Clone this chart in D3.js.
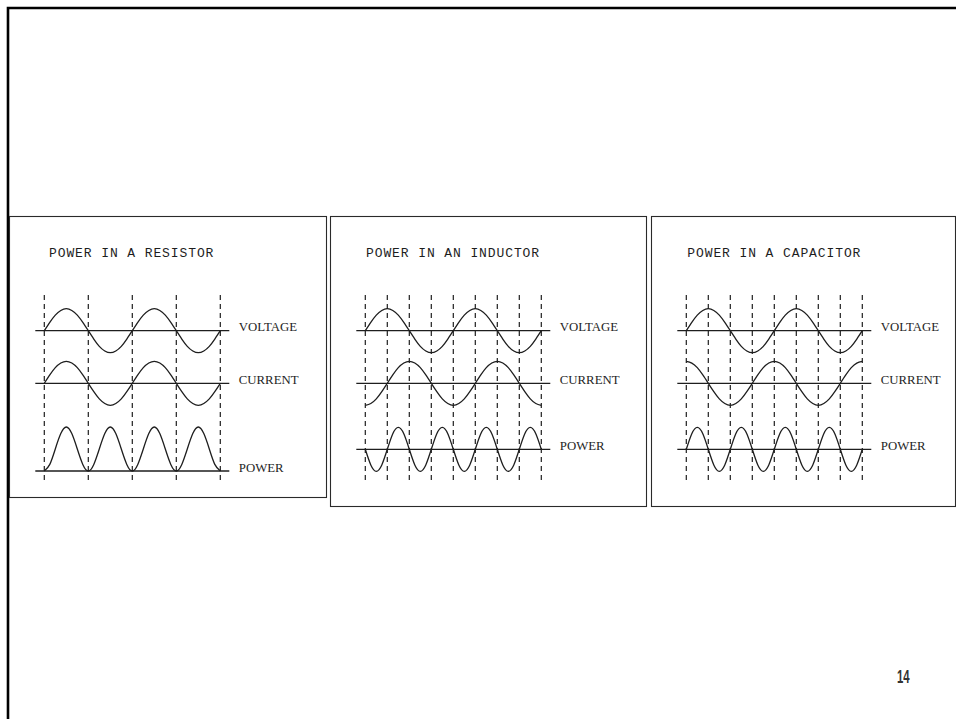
<!DOCTYPE html>
<html><head><meta charset="utf-8">
<script src="https://cdn.jsdelivr.net/npm/d3@7"></script>
<style>html,body{margin:0;padding:0;background:#fff;overflow:hidden}</style>
</head><body>
<svg id="c" width="956" height="719"></svg>
<script>
// ---------- data ----------
const panelTitles = ["POWER IN A RESISTOR", "POWER IN AN INDUCTOR", "POWER IN A CAPACITOR"];
const rowLabels = ["VOLTAGE", "CURRENT", "POWER"];
const phaseDeg = [0,22.5,45,67.5,90,112.5,135,157.5,180,202.5,225,247.5,270,292.5,315,337.5,
  360,382.5,405,427.5,450,472.5,495,517.5,540,562.5,585,607.5,630,652.5,675,697.5,720];
const resistorGrid = [0, 180, 360, 540, 720];
const reactiveGrid = [0, 90, 180, 270, 360, 450, 540, 630, 720];

const voltage = [0,.38,.71,.92,1,.92,.71,.38,0,-.38,-.71,-.92,-1,-.92,-.71,-.38,
  0,.38,.71,.92,1,.92,.71,.38,0,-.38,-.71,-.92,-1,-.92,-.71,-.38,0];
const resistorCurrent = [0,.38,.71,.92,1,.92,.71,.38,0,-.38,-.71,-.92,-1,-.92,-.71,-.38,
  0,.38,.71,.92,1,.92,.71,.38,0,-.38,-.71,-.92,-1,-.92,-.71,-.38,0];
const resistorPower = [0,.15,.5,.85,1,.85,.5,.15,0,.15,.5,.85,1,.85,.5,.15,
  0,.15,.5,.85,1,.85,.5,.15,0,.15,.5,.85,1,.85,.5,.15,0];
const inductorCurrent = [-1,-.92,-.71,-.38,0,.38,.71,.92,1,.92,.71,.38,0,-.38,-.71,-.92,
  -1,-.92,-.71,-.38,0,.38,.71,.92,1,.92,.71,.38,0,-.38,-.71,-.92,-1];
const inductorPower = [0,-.71,-1,-.71,0,.71,1,.71,0,-.71,-1,-.71,0,.71,1,.71,
  0,-.71,-1,-.71,0,.71,1,.71,0,-.71,-1,-.71,0,.71,1,.71,0];
const capacitorCurrent = [1,.92,.71,.38,0,-.38,-.71,-.92,-1,-.92,-.71,-.38,0,.38,.71,.92,
  1,.92,.71,.38,0,-.38,-.71,-.92,-1,-.92,-.71,-.38,0,.38,.71,.92,1];
const capacitorPower = [0,.71,1,.71,0,-.71,-1,-.71,0,.71,1,.71,0,-.71,-1,-.71,
  0,.71,1,.71,0,-.71,-1,-.71,0,.71,1,.71,0,-.71,-1,-.71,0];
const pageNumber = "14";

// ---------- layout ----------
const panels = [
  {box:[9.5,216.5,326.5,497.5], x0:44.3, titleX:49, base:[330.7,383.3,471], amp:[22,22,44],
   grid:resistorGrid, series:[voltage, resistorCurrent, resistorPower], title:panelTitles[0]},
  {box:[330.5,216.5,646.5,506.5], x0:365.3, titleX:366, base:[330.7,383.3,449.3], amp:[22,22,22],
   grid:reactiveGrid, series:[voltage, inductorCurrent, inductorPower], title:panelTitles[1]},
  {box:[651.5,216.5,955.5,506.5], x0:686.3, titleX:687.3, base:[330.7,383.3,449.3], amp:[22,22,22],
   grid:reactiveGrid, series:[voltage, capacitorCurrent, capacitorPower], title:panelTitles[2]}
];
const ink = "#1e1e1e";
const svg = d3.select("#c");

// slide frame
svg.append("path").attr("d","M8,719V8H956").attr("fill","none")
  .attr("stroke","#000").attr("stroke-width",2.6);

panels.forEach(p => {
  const g = svg.append("g");
  const [bx0, by0, bx1, by1] = p.box;
  g.append("rect").attr("x",bx0).attr("y",by0).attr("width",bx1-bx0).attr("height",by1-by0)
    .attr("fill","#fff").attr("stroke","#2a2a2a").attr("stroke-width",1.1);

  const x = d3.scaleLinear().domain([0,720]).range([p.x0, p.x0+176]);

  g.append("text").attr("x",p.titleX).attr("y",256.7)
    .attr("font-family","'Liberation Mono','Courier New',monospace")
    .attr("font-size",13).attr("letter-spacing",0.9).attr("fill",ink)
    .text(p.title);

  // dashed phase gridlines
  g.selectAll("line.grid").data(p.grid).join("line").attr("class","grid")
    .attr("x1",d=>x(d)).attr("x2",d=>x(d)).attr("y1",295).attr("y2",480)
    .attr("stroke",ink).attr("stroke-width",1.2).attr("stroke-dasharray","5,4");

  p.series.forEach((vals, i) => {
    const y = d3.scaleLinear().domain([0,1]).range([p.base[i], p.base[i]-p.amp[i]]);
    g.append("line").attr("x1",x(0)-9).attr("x2",x(720)+9)
      .attr("y1",y(0)).attr("y2",y(0)).attr("stroke",ink).attr("stroke-width",1.3);
    const line = d3.line().x((d,k)=>x(phaseDeg[k])).y(d=>y(d)).curve(d3.curveNatural);
    g.append("path").attr("d",line(vals)).attr("fill","none")
      .attr("stroke",ink).attr("stroke-width",1.3);
    g.append("text").attr("x",x(720)+18.5).attr("y",y(0)+0.5)
      .attr("font-family","'Liberation Serif','Times New Roman',serif")
      .attr("font-size",12.8).attr("fill",ink).text(rowLabels[i]);
  });
});

svg.append("text").attr("x",897).attr("y",683.3)
  .attr("font-family","'Liberation Sans Narrow','Liberation Sans',sans-serif")
  .attr("font-size",18.5).attr("font-weight","bold").attr("fill","#333")
  .attr("textLength",12.6).attr("lengthAdjust","spacingAndGlyphs")
  .text(pageNumber);
</script>
</body></html>
